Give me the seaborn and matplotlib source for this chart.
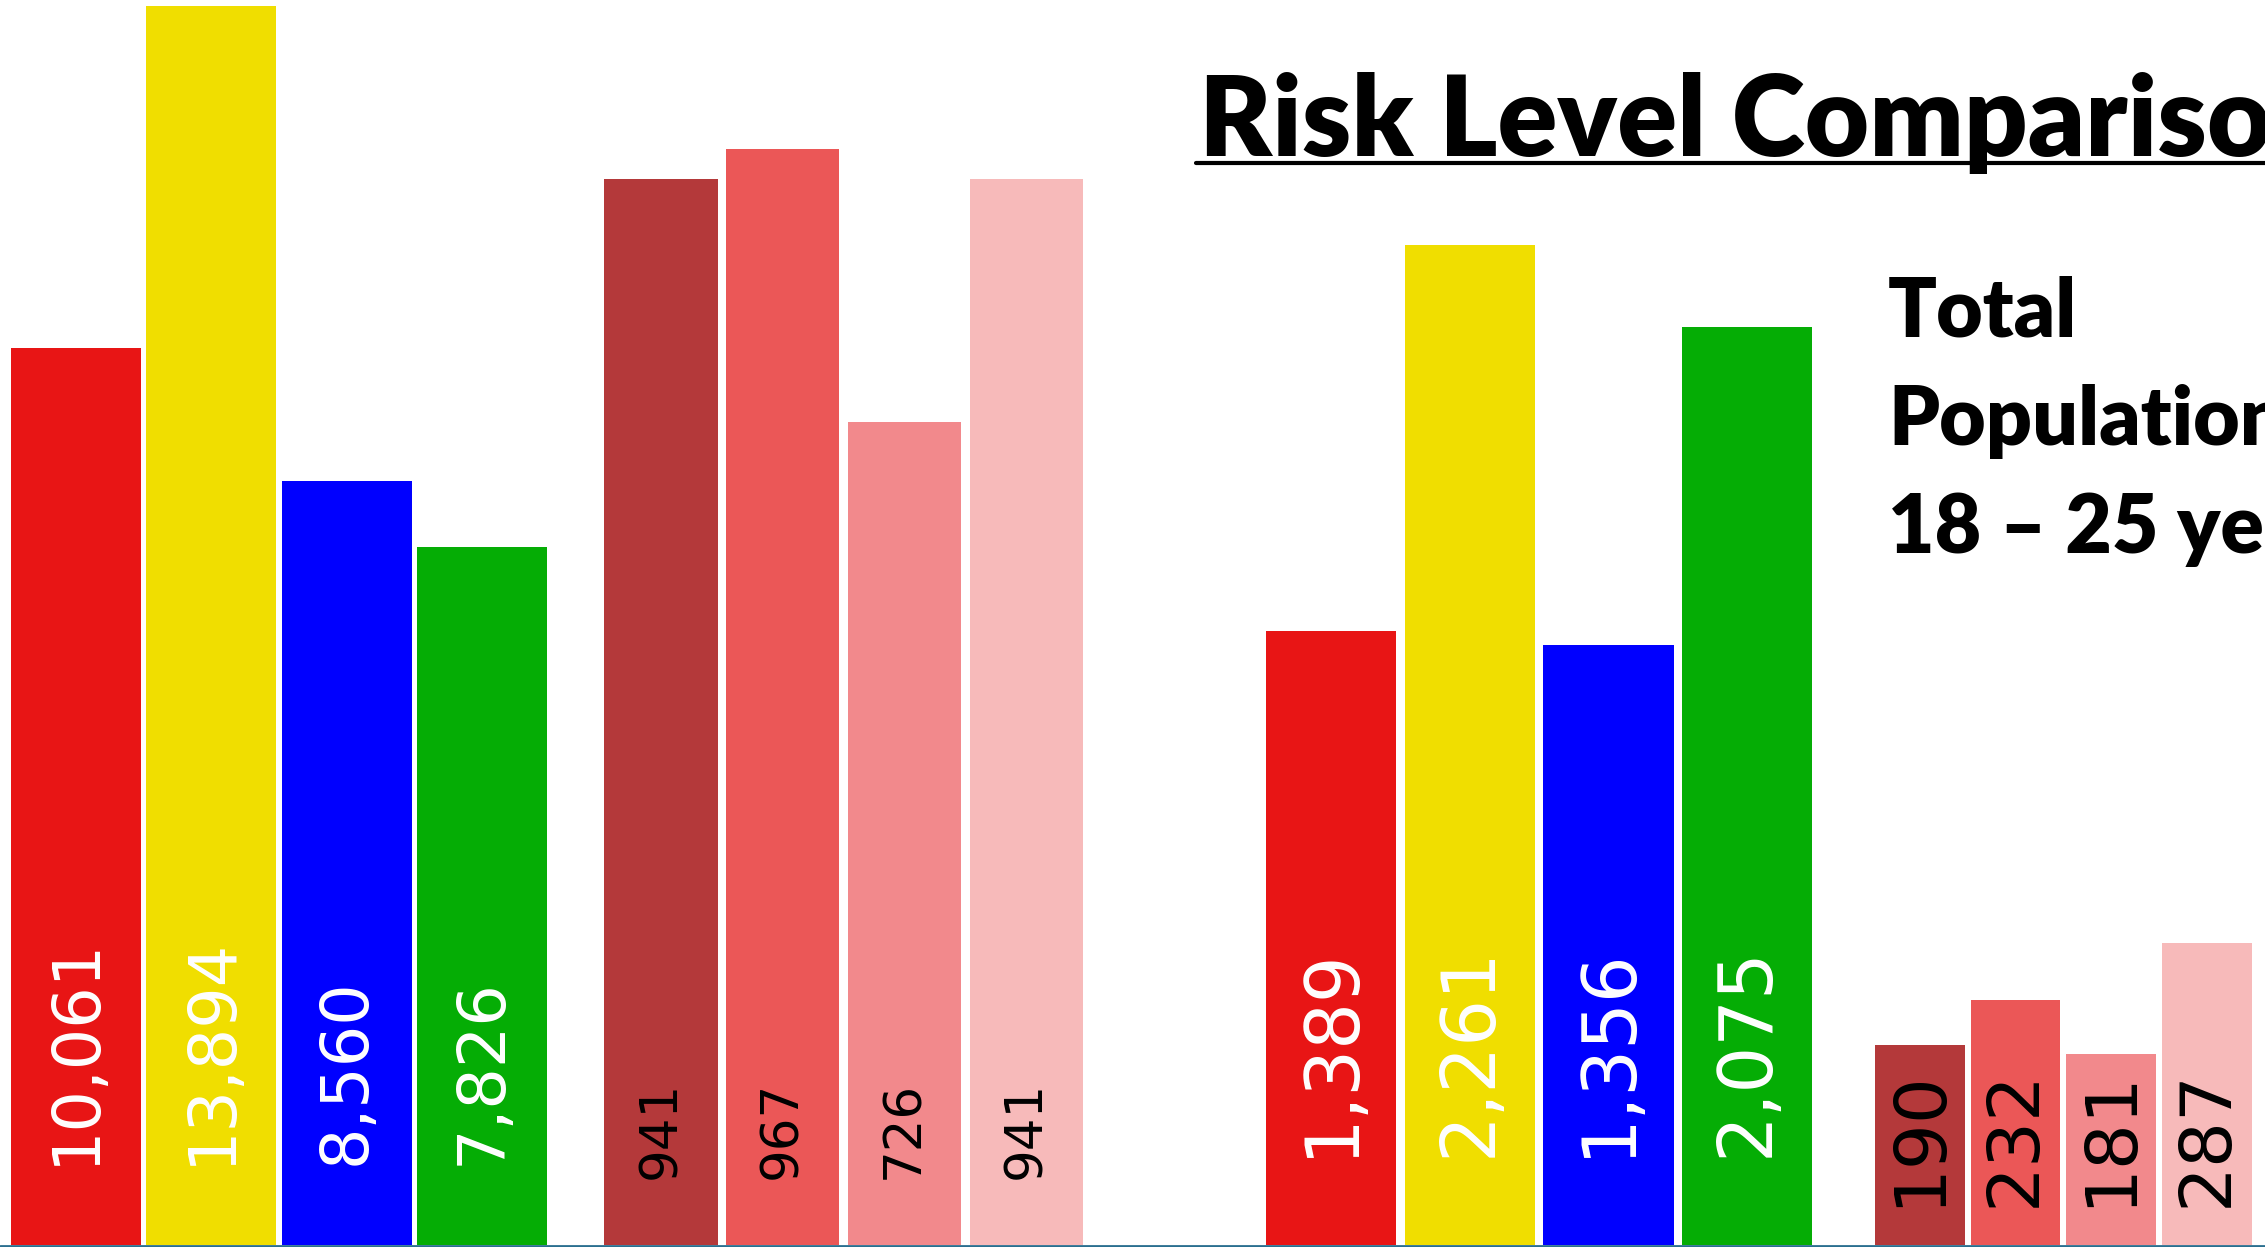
import matplotlib
matplotlib.use('Agg')
import matplotlib.pyplot as plt
from matplotlib.lines import Line2D
import seaborn as sns

# four bar groups cut from a slide, each on its own scale
group1_values = [10061, 13894, 8560, 7826]
group2_values = [941, 967, 726, 941]
group3_values = [1389, 2261, 1356, 2075]
group4_values = [190, 232, 181, 287]

title_text = 'Risk Level Comparison'
subtitle_text = 'Total\nPopulation\n18 \u2013 25 years'

bright_colors = ['#E81515', '#F0DE00', '#0000FF', '#05AD05']
pink_colors = ['#B4393A', '#EB5757', '#F2898C', '#F7BABA']

sns.set_theme(style='white')
plt.rcParams['font.family'] = ['DejaVu Sans']

fig = plt.figure(figsize=(22.65, 12.47), dpi=100)

# left, width (figure fraction), ylim top, bar width, label size, label offset, label colour
groups = [
    (group1_values, bright_colors, 0.0036, 0.2392, 13961, 0.96, 47, 57, 'white'),
    (group2_values, pink_colors, 0.2649, 0.2151, 1099, 0.93, 37, 47, 'black'),
    (group3_values, bright_colors, 0.5571, 0.2449, 2816, 0.94, 53, 63, 'white'),
    (group4_values, pink_colors, 0.8265, 0.1689, 1183, 0.94, 52, 27, 'black'),
]

for vals, cols, left, width, top, bw, fs, off, tc in groups:
    ax = fig.add_axes([left, 0.002, width, 0.998])
    xs = list(range(len(vals)))
    sns.barplot(x=xs, y=vals, hue=xs, palette=cols, legend=False,
                width=bw, saturation=1, linewidth=0, ax=ax)
    ax.set_xlim(-0.5, len(vals) - 0.5)
    ax.set_ylim(0, top)
    ax.axis('off')
    for i, v in enumerate(vals):
        ax.annotate(f'{v:,}', xy=(i, 0), xytext=(0, off), textcoords='offset points',
                    rotation=90, ha='center', va='bottom', fontsize=fs, color=tc,
                    annotation_clip=False)

fig.text(0.5293, 0.875, title_text, fontsize=80, fontweight='heavy',
         family=['Lato', 'DejaVu Sans'], color='black', ha='left', va='baseline')
fig.add_artist(Line2D([0.528, 1.0], [0.869, 0.869], color='black', linewidth=3))

fig.text(0.8335, 0.5562, subtitle_text, fontsize=58, fontweight='heavy',
         family=['Lato', 'DejaVu Sans'], color='black', ha='left', va='baseline',
         linespacing=1.55)

fig.add_artist(Line2D([0, 1], [0.001, 0.001], color='#2A6F8F', linewidth=2))

fig.savefig('out.png', dpi=100, facecolor='white')
